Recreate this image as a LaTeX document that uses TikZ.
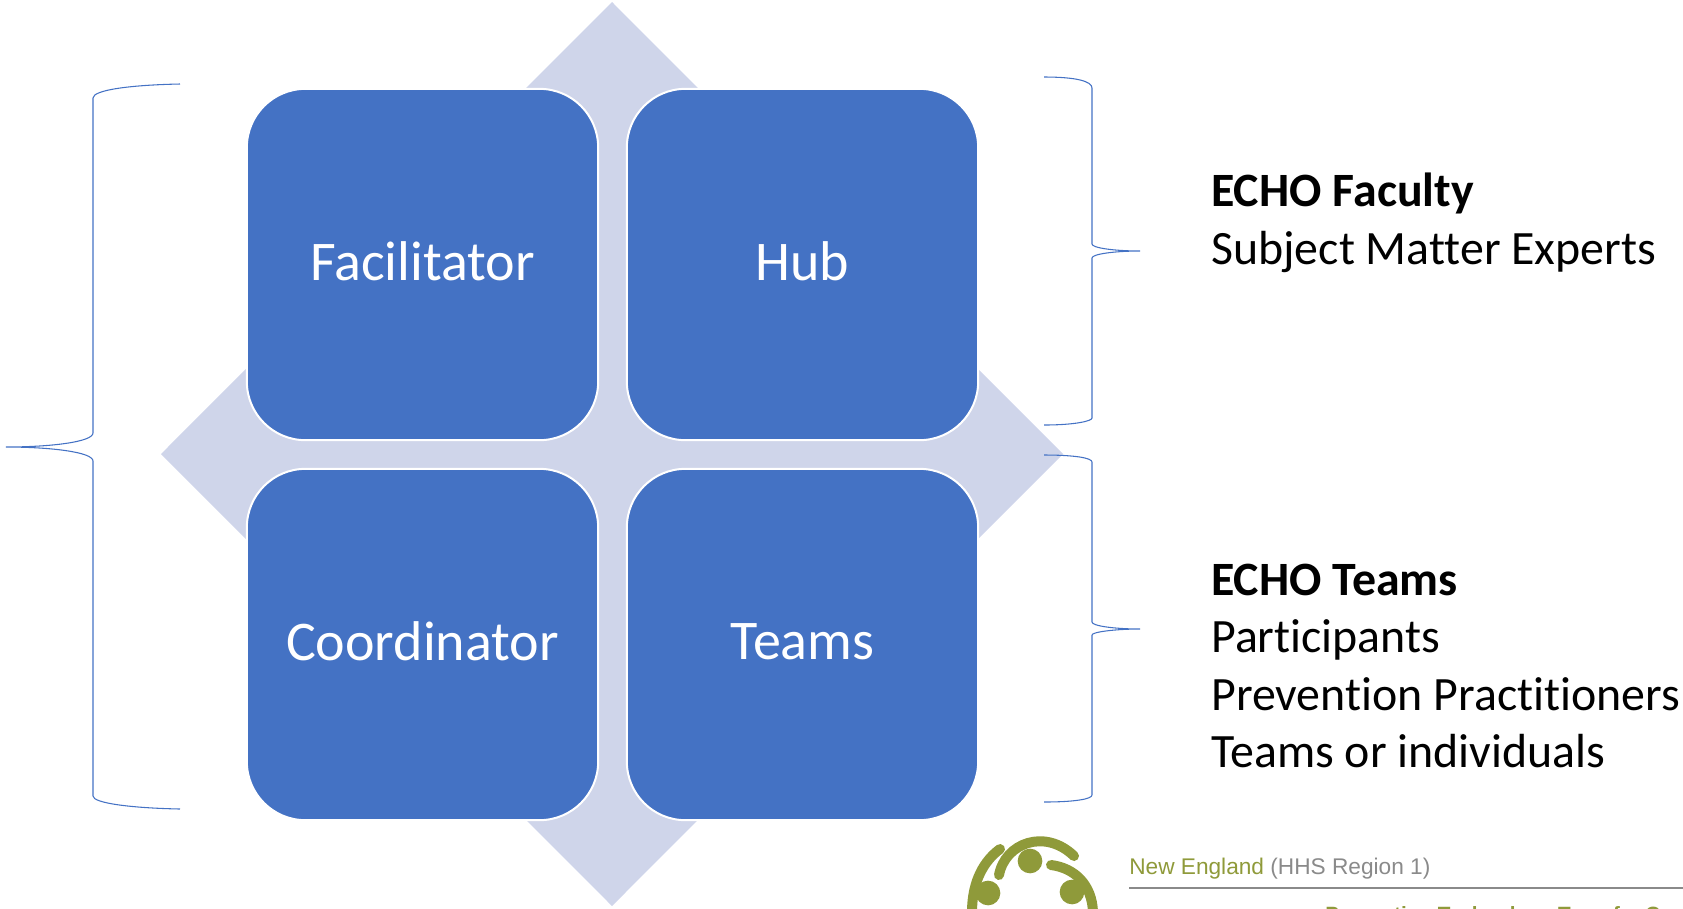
\documentclass[tikz,border=0pt]{standalone}
\usepackage{fontspec}
\setmainfont[Ligatures=CommonOff]{Carlito}
\newfontfamily\logofont{Liberation Sans}
\usepackage{tikz}
\usetikzlibrary{positioning}
\definecolor{boxblue}{HTML}{4472C4}
\definecolor{diamondblue}{HTML}{CFD5EA}
\definecolor{logogreen}{HTML}{8F9A3A}
\definecolor{logogrey}{HTML}{8A8A8A}
\newcommand{\echolabel}[2]{\textbf{#1}\\#2}

\begin{document}
\begin{tikzpicture}[
    x=0.75pt, y=-0.75pt,
    tile/.style={draw=white,
                 line width=1.5pt,
                 fill=boxblue,
                 rounded corners=44pt,
                 minimum size=263.5pt,
                 text=white,
                 text depth=5pt,
                 font=\fontsize{42}{46}\selectfont},
    bracket/.style={draw=boxblue, line width=0.8pt},
    sidetext/.style={anchor=west,
                     align=left,
                     inner sep=0pt,
                     font=\fontsize{35.9}{43.2}\selectfont},
    logoarc/.style={draw=logogreen, line width=7.5pt, line cap=round},
    logodot/.style={circle, fill=logogreen, minimum size=18.5pt, inner sep=0pt},
    logotext/.style={anchor=base west, inner sep=0pt, font=\logofont\fontsize{17}{20}\selectfont}]

    \useasboundingbox (0,0) rectangle (1683,908);
    \clip (0,0) rectangle (1683,908);

    % backdrop
    \fill[diamondblue] (612,2) -- (1063,454) -- (612,906) -- (161,454) -- cycle;

    % four tiles
    \node[tile] (facilitator) at (422.5,264.5) {Facilitator};
    \node[tile, right=20pt of facilitator] (hub) {Hub};
    \node[tile, below=20pt of facilitator] (coordinator) {Coordinator};
    \node[tile, below=20pt of hub] (teams) {Teams};

    % braces
    \draw[bracket] (180,84) .. controls (130,85) and (93,90) .. (93,98) -- (93,433)
        .. controls (93,442) and (50,447) .. (6,447)
        .. controls (50,447) and (93,452) .. (93,461) -- (93,796)
        .. controls (93,803) and (130,808) .. (180,809);
    \draw[bracket] (1044,77) .. controls (1075,77) and (1092,81) .. (1092,88) -- (1092,244)
        .. controls (1092,248) and (1115,251) .. (1140,251)
        .. controls (1115,251) and (1092,254) .. (1092,258) -- (1092,418)
        .. controls (1092,421) and (1075,425) .. (1044,425);
    \draw[bracket] (1044,455) .. controls (1075,455) and (1092,458) .. (1092,462) -- (1092,622)
        .. controls (1092,626) and (1115,629) .. (1140,629)
        .. controls (1115,629) and (1092,632) .. (1092,635) -- (1092,795)
        .. controls (1092,799) and (1075,802) .. (1044,802);

    % labels
    \node[sidetext] (faculty) at (1211,222.5) {\echolabel{ECHO Faculty}{Subject Matter Experts}};
    \node[sidetext] (echoteams) at (1211,666) {\echolabel{ECHO Teams}{Participants\\Prevention Practitioners\\Teams or individuals}};

    % logo in the corner
    \node[logodot] (dotA) at (1030,861) {};
    \node[logodot] (dotB) at (988,893) {};
    \node[logodot] (dotC) at (1072,892) {};
    \draw[logoarc] (1000,849) .. controls (985,860) and (972,880) .. (972,912);
    \draw[logoarc] (999,875) .. controls (1005,843) and (1045,828) .. (1074,856);
    \draw[logoarc] (1051,865) .. controls (1075,868) and (1092,885) .. (1093,912);
    \node[logotext, text=logogreen] (region) at (1129,874) {New England \textcolor{logogrey}{(HHS Region 1)}};
    \coordinate (ruleend) at (1683,888);
    \draw[logogrey, line width=1.8pt] (1129,888) -- (ruleend);
    \node[logotext, text=logogreen, font=\logofont\bfseries\fontsize{15.5}{18}\selectfont] (center) at (1325,921) {Prevention Technology Transfer Center};
\end{tikzpicture}
\end{document}
